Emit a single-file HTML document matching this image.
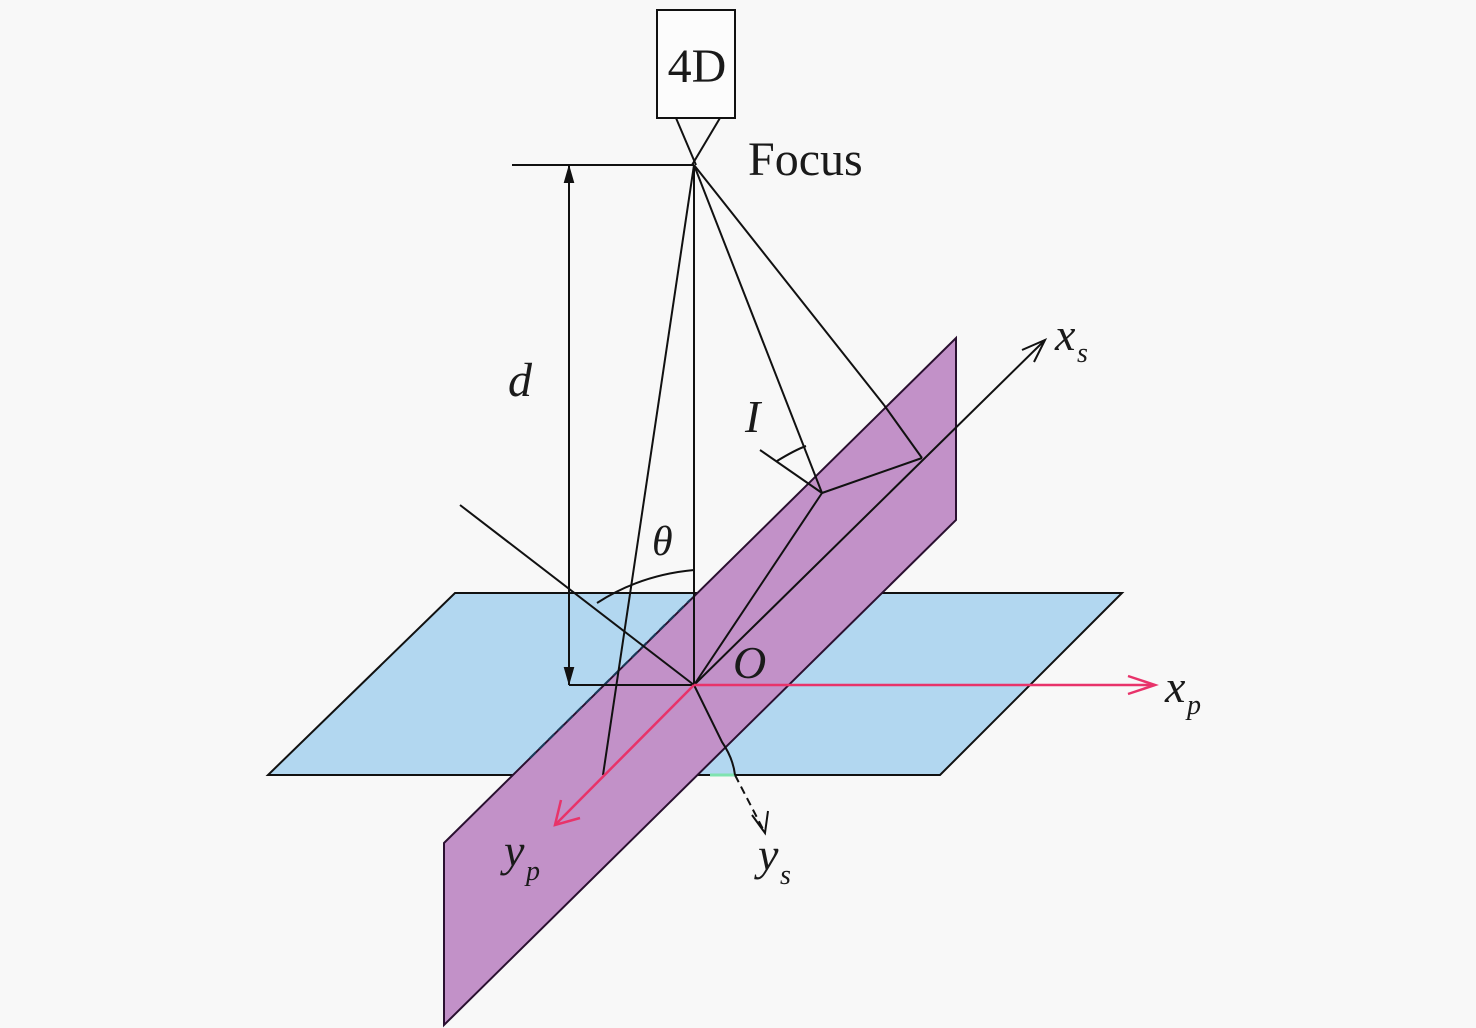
<!DOCTYPE html>
<html><head><meta charset="utf-8"><style>
html,body{margin:0;padding:0;background:#f8f8f8;}
svg{display:block;}
text{font-family:"Liberation Serif",serif;fill:#1a1a1a;}
</style></head><body>
<svg width="1476" height="1028" viewBox="0 0 1476 1028" xmlns="http://www.w3.org/2000/svg">
<!-- blue plane -->
<polygon points="455,593 1122,593 940,775 268,775" fill="#b2d7f0" stroke="#111" stroke-width="2"/>
<!-- purple plane -->
<polygon points="444,843 956,338 956,520 444,1025" fill="#c291c8" stroke="#2a1030" stroke-width="2"/>
<line x1="530" y1="758" x2="690" y2="600" stroke="#1a3a5a" stroke-width="2" stroke-dasharray="8,5"/>
<line x1="710" y1="775" x2="735" y2="775" stroke="#7fe3b0" stroke-width="3"/>
<g stroke="#111" stroke-width="2" fill="none">
<rect x="657" y="10" width="78" height="108" fill="#fcfcfc"/>
<line x1="676" y1="118" x2="696" y2="165"/>
<line x1="720" y1="118" x2="692" y2="165"/>
<line x1="512" y1="165" x2="694" y2="165"/>
<line x1="569" y1="165" x2="569" y2="685"/>
<path d="M569,168 l-4,14 h8 Z M569,682 l-4,-14 h8 Z" fill="#111"/>
<line x1="569" y1="685" x2="694" y2="685"/>
<line x1="694" y1="165" x2="694" y2="685"/>
<line x1="694" y1="165" x2="603" y2="775"/>
<path d="M597,603 Q640,575 694,570"/>
<line x1="694" y1="165" x2="822" y2="493"/>
<line x1="694" y1="165" x2="884" y2="405"/>
<line x1="884" y1="405" x2="922" y2="458"/>
<line x1="922" y1="458" x2="822" y2="493"/>
<line x1="822" y1="493" x2="694" y2="685"/>
<line x1="760" y1="450" x2="822" y2="493"/>
<path d="M777,461 Q795,450 806,446"/>
<line x1="460" y1="505" x2="694" y2="685"/>
<path d="M694,685 L722,742 Q733,758 735,775"/>
<line x1="735" y1="775" x2="765" y2="833" stroke-dasharray="8,5"/>
<path d="M752,815 L765,833 L768,811"/>
<line x1="694" y1="685" x2="1045" y2="340"/>
<path d="M1022,350 L1045,340 L1034,362"/>
</g>
<g stroke="#e8336a" stroke-width="2.5" fill="none">
<line x1="694" y1="685" x2="1155" y2="685"/>
<path d="M1128,676 L1155,685 L1128,694"/>
<line x1="694" y1="685" x2="555" y2="825"/>
<path d="M561,800 L555,825 L580,818"/>
</g>
<text x="697" y="82" font-size="48" text-anchor="middle">4D</text>
<text x="748" y="175" font-size="48">Focus</text>
<text x="508" y="396" font-size="48" font-style="italic">d</text>
<text x="652" y="555" font-size="42" font-style="italic">θ</text>
<text x="745" y="432" font-size="46" font-style="italic">I</text>
<text x="733" y="678" font-size="46" font-style="italic">O</text>
<text x="1055" y="350" font-size="46" font-style="italic">x</text>
<text x="1077" y="362" font-size="28" font-style="italic">s</text>
<text x="1165" y="702" font-size="46" font-style="italic">x</text>
<text x="1187" y="714" font-size="28" font-style="italic">p</text>
<text x="504" y="866" font-size="46" font-style="italic">y</text>
<text x="526" y="880" font-size="28" font-style="italic">p</text>
<text x="758" y="870" font-size="46" font-style="italic">y</text>
<text x="780" y="884" font-size="28" font-style="italic">s</text>
</svg>
</body></html>
